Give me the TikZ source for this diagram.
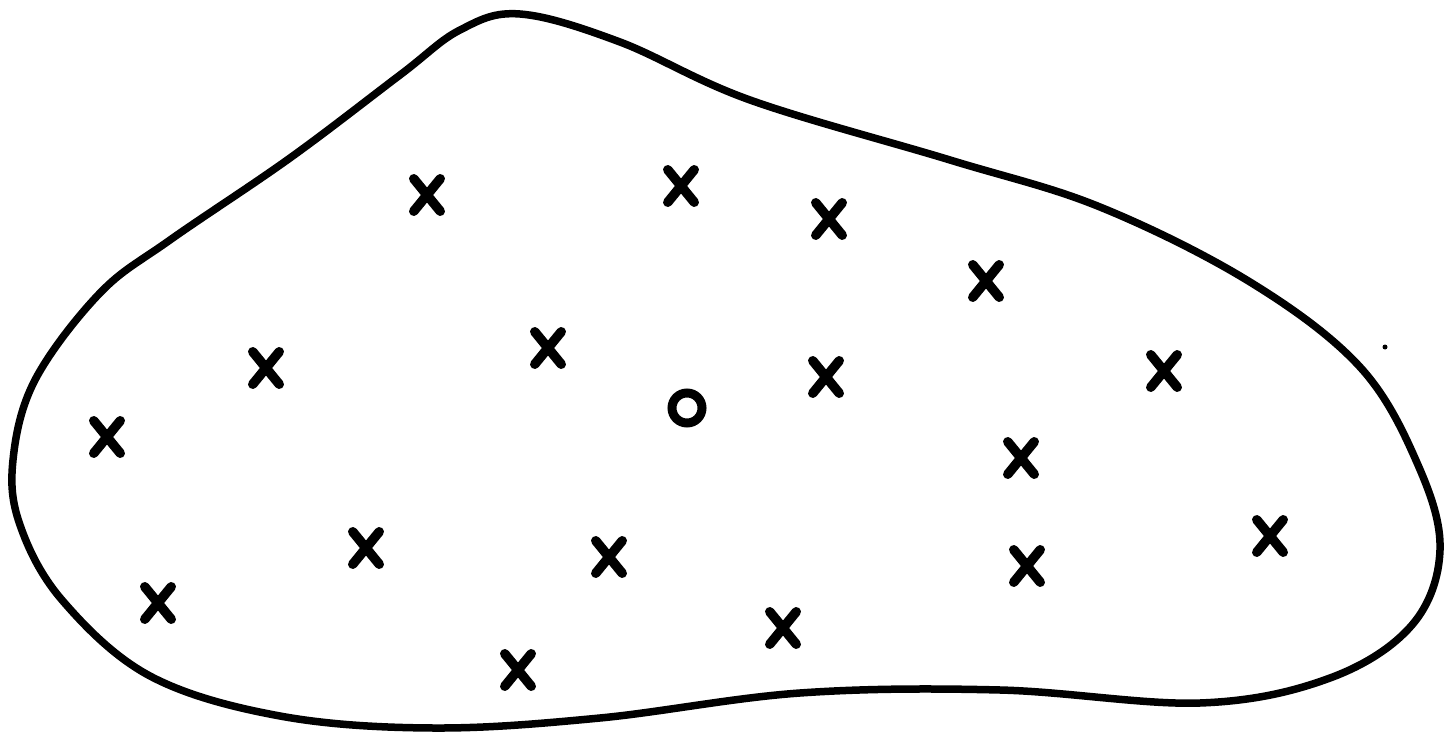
\documentclass[tikz,border=0pt]{standalone}
\usetikzlibrary{shapes.misc}
\begin{document}
\begin{tikzpicture}[x=1pt,y=-1pt,
  xmark/.style={cross out, draw=black, line width=9.5pt, line cap=round, inner sep=0pt, minimum width=17pt, minimum height=23pt},
  ostroke/.style={draw=black, line width=9pt},
  outline/.style={draw=black, line width=7.5pt, line join=round}]
\useasboundingbox (0,0) rectangle (1451,735);
\draw[outline] plot[smooth cycle, tension=0.6] coordinates {
 (520,14) (620,42) (750,100) (950,160) (1100,207) (1250,282)
 (1360,367) (1418,465) (1440,550) (1412,625) (1330,678) (1200,703)
 (1000,690) (800,693) (600,718) (433,728) (280,716) (150,676)
 (62,600) (20,525) (13,460) (35,380) (100,293) (170,240)
 (290,158) (400,75) (460,30)};
\node[xmark] (x1) at (427,195) {};
\node[xmark] (x2) at (681,186) {};
\node[xmark] (x3) at (829,219) {};
\node[xmark] (x4) at (986,281) {};
\node[xmark] (x5) at (548,348) {};
\node[xmark] (x6) at (266,368) {};
\node[xmark] (x7) at (826,377) {};
\node[xmark] (x8) at (1164,371) {};
\node[xmark] (x9) at (107,437) {};
\node[xmark] (x10) at (1021,458) {};
\node[xmark] (x11) at (366,548) {};
\node[xmark] (x12) at (609,557) {};
\node[xmark] (x13) at (1027,566) {};
\node[xmark] (x14) at (1270,536) {};
\node[xmark] (x15) at (158,603) {};
\node[xmark] (x16) at (783,628) {};
\node[xmark] (x17) at (518,670) {};
\coordinate (o1) at (687,408);
\draw[ostroke] (o1) circle (15pt);
\fill[black] (1385,347) circle (2.5pt);
\end{tikzpicture}
\end{document}
